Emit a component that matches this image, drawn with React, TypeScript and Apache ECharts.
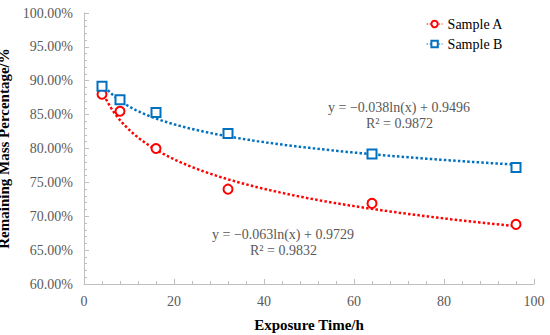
import React, { useEffect, useRef } from "react";
import * as echarts from "echarts";

const timesA = [4, 8, 16, 32, 64, 96];
const valuesA = [0.880, 0.855, 0.800, 0.740, 0.719, 0.688];
const timesB = [4, 8, 16, 32, 64, 96];
const valuesB = [0.892, 0.872, 0.853, 0.822, 0.792, 0.772];
// fitted log trend coefficients shown on the chart: y = a ln(x) + b
const trendA = [-0.063, 0.9729];
const trendB = [-0.038, 0.9496];
const eqA = ["y = \u22120.063ln(x) + 0.9729", "R\u00b2 = 0.9832"];
const eqB = ["y = \u22120.038ln(x) + 0.9496", "R\u00b2 = 0.9872"];
const seriesNames = ["Sample A", "Sample B"];
const trendRange = [4, 96];

const RED = "#FF0000";
const BLUE = "#0070C0";
const FONT = "Liberation Serif";

function trendPoints(c: number[]) {
  const pts: number[][] = [];
  for (let x = trendRange[0]; x <= trendRange[1] + 1e-9; x += 0.5) {
    pts.push([x, c[0] * Math.log(x) + c[1]]);
  }
  return pts;
}

export default function App() {
  const ref = useRef<HTMLDivElement>(null);
  useEffect(() => {
    const chart = echarts.init(ref.current!, undefined, { renderer: "svg" });
    const dotted = (color: string) => ({
      color,
      width: 2.5,
      type: [2.5, 2.2] as any,
    });
    chart.setOption({
      animation: false,
      textStyle: { fontFamily: FONT },
      grid: { left: 84, right: 16, top: 13, bottom: 51, containLabel: false, outerBoundsMode: "none" },
      legend: {
        left: 421,
        top: 12,
        orient: "vertical",
        itemWidth: 16,
        itemHeight: 8,
        itemGap: 6,
        textStyle: { fontFamily: FONT, fontSize: 14, color: "#000" },
        data: [
          { name: seriesNames[0], lineStyle: { color: RED, width: 1.2, type: [1.5, 1.5], opacity: 1 } },
          { name: seriesNames[1], lineStyle: { color: BLUE, width: 1.2, type: [1.5, 1.5], opacity: 1 } },
        ],
      },
      xAxis: {
        type: "value",
        min: 0,
        max: 100,
        interval: 20,
        name: "Exposure Time/h",
        nameLocation: "middle",
        nameGap: 33,
        nameTextStyle: { fontFamily: FONT, fontSize: 15, fontWeight: "bold", color: "#000" },
        axisLine: { lineStyle: { color: "#BFBFBF" } },
        axisTick: { inside: true, length: 5, lineStyle: { color: "#BFBFBF" } },
        minorTick: { show: true, splitNumber: 5, length: 3, lineStyle: { color: "#BFBFBF" } },
        splitLine: { show: false },
        axisLabel: { fontFamily: FONT, fontSize: 14, color: "#595959", margin: 10 },
      },
      yAxis: {
        type: "value",
        min: 0.6,
        max: 1.0,
        interval: 0.05,
        name: "Remaining Mass Percentage/%",
        nameLocation: "middle",
        nameGap: 60,
        nameTextStyle: { fontFamily: FONT, fontSize: 15, fontWeight: "bold", color: "#000" },
        axisLine: { show: true, lineStyle: { color: "#BFBFBF" } },
        axisTick: { show: true, inside: true, length: 5, lineStyle: { color: "#BFBFBF" } },
        minorTick: { show: true, splitNumber: 5, length: 3, lineStyle: { color: "#BFBFBF" } },
        splitLine: { show: false },
        axisLabel: {
          fontFamily: FONT,
          fontSize: 14,
          color: "#595959",
          margin: 11,
          formatter: (v: number) => (v * 100).toFixed(2) + "%",
        },
      },
      series: [
        {
          name: "Trend A",
          type: "line",
          data: trendPoints(trendA),
          showSymbol: false,
          symbol: "none",
          lineStyle: dotted(RED),
          silent: true,
          z: 1,
        },
        {
          name: "Trend B",
          type: "line",
          data: trendPoints(trendB),
          showSymbol: false,
          symbol: "none",
          lineStyle: dotted(BLUE),
          silent: true,
          z: 1,
        },
        {
          name: seriesNames[0],
          type: "line",
          data: timesA.map((t, i) => [t, valuesA[i]]),
          symbol: "emptyCircle",
          symbolSize: 9,
          itemStyle: { color: RED, borderWidth: 1.4 },
          lineStyle: { width: 0, opacity: 0 },
          z: 3,
        },
        {
          name: seriesNames[1],
          type: "line",
          data: timesB.map((t, i) => [t, valuesB[i]]),
          symbol: "emptyRect",
          symbolSize: 9,
          itemStyle: { color: BLUE, borderWidth: 1.4 },
          lineStyle: { width: 0, opacity: 0 },
          z: 3,
        },
      ],
      graphic: [
        {
          type: "text",
          left: 328,
          top: 100,
          style: { text: eqB[0], fontFamily: FONT, fontSize: 14, fill: "#595959" },
        },
        {
          type: "text",
          left: 366,
          top: 116,
          style: { text: eqB[1], fontFamily: FONT, fontSize: 14, fill: "#595959" },
        },
        {
          type: "text",
          left: 212,
          top: 227,
          style: { text: eqA[0], fontFamily: FONT, fontSize: 14, fill: "#595959" },
        },
        {
          type: "text",
          left: 250,
          top: 243,
          style: { text: eqA[1], fontFamily: FONT, fontSize: 14, fill: "#595959" },
        },
      ],
    });
    return () => chart.dispose();
  }, []);
  return <div ref={ref} style={{ width: 550, height: 335, position: "absolute", left: 0, top: 0 }} />;
}
